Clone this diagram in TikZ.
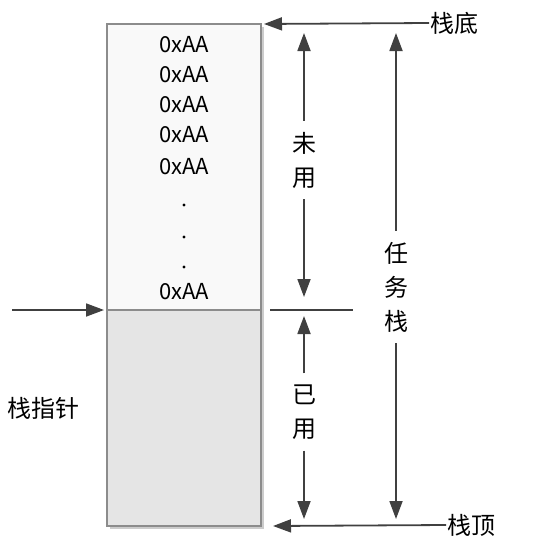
\documentclass[tikz,border=0pt]{standalone}
\usepackage{fontspec}
\setmainfont{Noto Sans CJK SC}
\usetikzlibrary{arrows.meta}

\begin{document}
\begin{tikzpicture}[x=1pt,y=-1pt,>={Triangle[length=18pt,width=13pt]},
  stack part/.style={draw=gray!90,line width=1.2pt,minimum width=154pt,inner sep=0pt,outer sep=0pt},
  arrow line/.style={->,draw=black!75,line width=1.8pt},
  label text/.style={font=\fontsize{24}{34}\selectfont,align=center,inner sep=11pt},
  value text/.style={font=\fontsize{22}{24}\selectfont,inner sep=0pt}]

  \useasboundingbox (0,0) rectangle (554,557);

  % the stack
  \fill[gray!40] (110,27) rectangle (264,529);
  \node[stack part,fill=gray!5,minimum height=286pt,anchor=north west] (unused) at (107,24) {};
  \node[stack part,fill=gray!20,minimum height=216pt,anchor=north west] (used) at (107,310) {};

  \foreach \y in {45,75,105,135,167,292}
    \node[value text] (v\y) at (184,\y) {0xAA};
  \foreach \y in {205,237,267}
    \fill (184,\y) circle (1.6pt);

  % labels
  \node[label text,inner sep=1pt,anchor=west] (bottomlbl) at (429,23) {栈底};
  \node[label text,inner sep=1pt,anchor=west] (toplbl) at (446,525) {栈顶};
  \node[label text] (ptrlbl) at (44,408) {栈指针};
  \node[label text] (unusedlbl) at (304,160) {未\\用};
  \node[label text] (usedlbl) at (304,412) {已\\用};
  \node[label text] (tasklbl) at (396,287) {任\\务\\栈};

  \coordinate (ptrstart) at (12,310);
  \coordinate (sptip) at (273,526);
  \coordinate (divL) at (270,310);
  \coordinate (divR) at (353,310);
  \coordinate (unusedtop) at (304,33);
  \coordinate (unusedbot) at (304,297);
  \coordinate (usedtop) at (304,316);
  \coordinate (usedbot) at (304,519);
  \coordinate (tasktop) at (396,33);
  \coordinate (taskbot) at (396,519);

  % arrows
  \draw[arrow line,shorten >=3pt] (bottomlbl.west) -- (unused.north east);
  \draw[arrow line,shorten >=3pt] (ptrstart) -- (used.north west);
  \draw[arrow line] (toplbl.west) -- (sptip);
  \draw[black!75,line width=1.8pt] (divL) -- (divR);
  \draw[arrow line] (unusedlbl.north) -- (unusedtop);
  \draw[arrow line] (unusedlbl.south) -- (unusedbot);
  \draw[arrow line] (usedlbl.north) -- (usedtop);
  \draw[arrow line] (usedlbl.south) -- (usedbot);
  \draw[arrow line] (tasklbl.north) -- (tasktop);
  \draw[arrow line] (tasklbl.south) -- (taskbot);

\end{tikzpicture}
\end{document}
